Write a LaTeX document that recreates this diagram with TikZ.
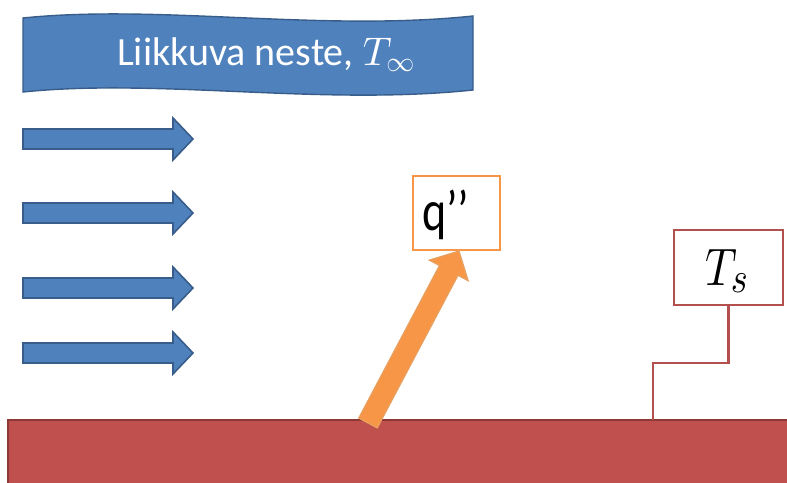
\documentclass[tikz,border=0pt]{standalone}
\usepackage{fontspec}
\usepackage{graphicx}
\setmainfont{Carlito}
\DeclareFontShape{OML}{cmm}{m}{it}{<-6>cmmi5<6-8>cmmi7<8->cmmi10}{}
\DeclareFontShape{OMS}{cmsy}{m}{n}{<-6>cmsy5<6-8>cmsy7<8->cmsy10}{}
\DeclareMathSizes{44}{44}{36}{28}
\usetikzlibrary{calc}
\definecolor{bluefill}{HTML}{4F81BD}
\definecolor{blueline}{HTML}{385D8A}
\definecolor{redfill}{HTML}{C0504D}
\definecolor{redline}{HTML}{8C3836}
\definecolor{tsline}{HTML}{B3504D}
\definecolor{orfill}{HTML}{F79646}
\definecolor{orline}{HTML}{E8A060}
\tikzset{
  flowarrow/.style={fill=bluefill,draw=blueline,line width=1.6pt,line join=miter},
  labelbox/.style={draw,fill=white,line width=2.2pt,minimum width=87pt,minimum height=74pt,inner sep=0pt},
}
\begin{document}
\begin{tikzpicture}[x=1pt,y=-1pt]
\useasboundingbox (0,0) rectangle (787,482);
% wall
\fill[redfill] (8,420) rectangle (790,485);
\draw[redline,line width=1.6pt] (8,485) -- (8,420) -- (790,420);
% banner
\draw[fill=bluefill,draw=blueline,line width=1.4pt]
  (23,18) .. controls (160,4) and (320,32) .. (473,16)
  -- (473,90) .. controls (320,106) and (160,78) .. (23,92) -- cycle;
\node[text=white,font=\fontsize{40}{44}\selectfont] (banner) at (266,55) {Liikkuva neste, $T_\infty$};
% flow arrows
\foreach \yy [count=\i] in {139,213,288,353}{
  \draw[flowarrow] (23,\yy-10) -- (173,\yy-10) -- (173,\yy-21) -- (193,\yy)
    -- (173,\yy+21) -- (173,\yy+10) -- (23,\yy+10) -- cycle;
}
% q'' box
\node[labelbox,draw=orfill] (q) at (456.5,213) {};
\node[anchor=base west,inner sep=0pt,font=\fontsize{46}{50}\selectfont] (qlabel) at (422,230) {\scalebox{1}[1.25]{q’’}};
% Ts box
\node[labelbox,draw=tsline,minimum width=109pt,minimum height=75pt] (ts) at (728.5,267.5) {};
\node[anchor=base west,inner sep=0pt,font=\fontsize{44}{48}\selectfont] (tslabel) at (705,285) {\scalebox{1}[1.2]{$T_s$}};
% orange arrow
\coordinate (qbase) at (368,423);
\coordinate (qtip) at (459,251);
\coordinate (qneck) at ($(qtip)!22pt!(qbase)$);
\draw[fill=orfill,draw=orline,line width=1.2pt,line join=miter]
  ($(qbase)!10.5pt!90:(qtip)$) -- ($(qneck)!10.5pt!90:(qtip)$) -- ($(qneck)!22pt!90:(qtip)$)
  -- (qtip) -- ($(qneck)!22pt!-90:(qtip)$) -- ($(qneck)!10.5pt!-90:(qtip)$)
  -- ($(qbase)!10.5pt!-90:(qtip)$) -- cycle;
% Ts connector
\coordinate (tsfoot) at (653,420);
\draw[tsline,line width=2.6pt] (ts.south) |- (653,363) -- (tsfoot);
\end{tikzpicture}
\end{document}
